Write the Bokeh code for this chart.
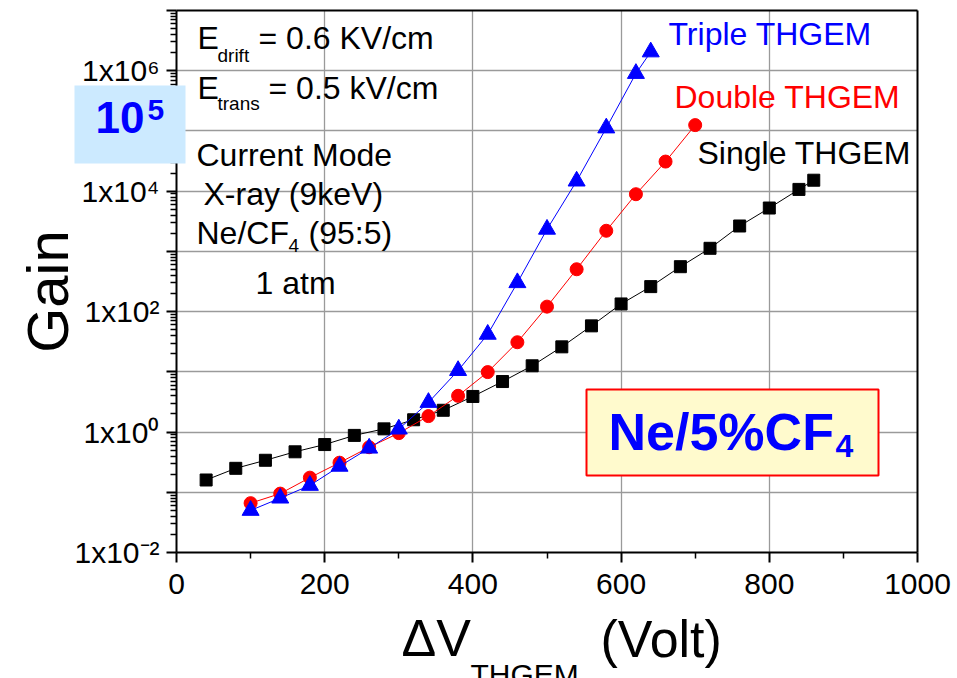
import math

from bokeh.embed import file_html
from bokeh.models import (BoxAnnotation, FixedTicker, Grid, Label, LinearAxis,
                          LogAxis, Range1d)
from bokeh.plotting import figure
from bokeh.resources import INLINE

# Gain versus THGEM voltage in Ne/CF4 (95:5), current mode, 9 keV X-rays
single_v = [40, 80, 120, 160, 200, 240, 280, 320, 360, 400, 440, 480, 520,
            560, 600, 640, 680, 720, 760, 800, 840, 860]
single_gain = [0.16, 0.25, 0.34, 0.47, 0.62, 0.88, 1.13, 1.6, 2.3, 3.9, 6.9,
               12.6, 26, 58, 134, 260, 557, 1125, 2640, 5250, 10700, 15200]

double_v = [100, 140, 180, 220, 260, 300, 340, 380, 420, 460, 500, 540, 580,
            620, 660, 700]
double_gain = [0.066, 0.095, 0.175, 0.31, 0.56, 0.96, 1.84, 4.0, 9.9, 31, 121,
               505, 2200, 8900, 31000, 125000]

triple_v = [100, 140, 180, 220, 260, 300, 340, 380, 420, 460, 500, 540, 580,
            620, 640]
triple_gain = [0.050, 0.080, 0.13, 0.27, 0.54, 1.12, 3.1, 10.5, 42, 302, 2330,
               14700, 112000, 900000, 2.05e6]

x_major = [0, 200, 400, 600, 800, 1000]
x_minor = [100, 300, 500, 700, 900]
y_decades = list(range(-2, 8))
y_labels = {-2: "1x10\u207b\u00b2", 0: "1x10\u2070", 2: "1x10\u00b2",
            4: "1x10\u2074", 6: "1x10\u2076"}

FONT = "Liberation Sans"
ASCENT = 0.905          # font ascent, in em
W, H = 957, 678
# where the axes box sits on the page
LEFT, RIGHT, TOP, BOTTOM = 176, 917, 10, 552
X0, X1 = 0, 1000
D0, D1 = -2, 7
Y0, Y1 = 10.0 ** D0, 10.0 ** D1

# The frame fills the whole page so that the margin texts are not clipped;
# the axes are pinned at the box edges with fixed_location.
px_per_v = (RIGHT - LEFT) / (X1 - X0)
px_per_dec = (BOTTOM - TOP) / (D1 - D0)
x_range = Range1d(X0 - LEFT / px_per_v, X1 + (W - RIGHT) / px_per_v)
y_range = Range1d(10 ** (D0 - (H - BOTTOM) / px_per_dec),
                  10 ** (D1 + TOP / px_per_dec))

p = figure(width=W, height=H, x_range=x_range, y_range=y_range,
           y_axis_type="log", output_backend="svg", toolbar_location=None,
           min_border=0, min_border_left=0, min_border_right=0,
           min_border_top=0, min_border_bottom=0)
p.title.visible = False
p.background_fill_color = "white"
p.border_fill_color = "white"
p.outline_line_color = None

# axes
y_major = [10.0 ** d for d in y_decades]
y_minor = [k * 10.0 ** d for d in y_decades[:-1] for k in range(2, 10)]
xa, ya = p.xaxis[0], p.yaxis[0]
xa.fixed_location = Y0
xa.bounds = (X0, X1)
ya.fixed_location = X0
ya.bounds = (Y0, Y1)
xa.ticker = FixedTicker(ticks=x_major, minor_ticks=x_minor)
ya.ticker = FixedTicker(ticks=y_major, minor_ticks=y_minor)
ya.major_label_overrides = {10.0 ** d: y_labels.get(d, "") for d in y_decades}
for ax in (xa, ya):
    ax.axis_line_width = 2
    ax.axis_line_color = "black"
    ax.major_tick_line_width = 2
    ax.major_tick_line_color = "black"
    ax.minor_tick_line_width = 1.5
    ax.minor_tick_line_color = "black"
    ax.major_tick_in = 0
    ax.major_tick_out = 10
    ax.minor_tick_in = 0
    ax.minor_tick_out = 6
    ax.major_label_text_font = FONT
    ax.major_label_text_font_size = "30px"
    ax.major_label_text_color = "black"
xa.major_label_standoff = 11
ya.major_label_standoff = 7

# top and right edges of the box
top_ax = LinearAxis(fixed_location=Y1, bounds=(X0, X1),
                    ticker=FixedTicker(ticks=[]), axis_line_width=2,
                    major_tick_out=0, minor_tick_out=0)
right_ax = LogAxis(fixed_location=X1, bounds=(Y0, Y1),
                   ticker=FixedTicker(ticks=[]), axis_line_width=2,
                   major_tick_out=0, minor_tick_out=0)
p.add_layout(top_ax, "above")
p.add_layout(right_ax, "right")

# grid, kept inside the box
x_grid_ticks = x_major[1:-1]
y_grid_ticks = y_major[1:-1]
GRID_COLOR, GRID_W = "#9a9a9a", 1.3
if "cross_bounds" in Grid.properties():
    p.xgrid.ticker = FixedTicker(ticks=x_grid_ticks)
    p.ygrid.ticker = FixedTicker(ticks=y_grid_ticks)
    p.xgrid.cross_bounds = (Y0, Y1)
    p.ygrid.cross_bounds = (X0, X1)
    for g in (p.xgrid[0], p.ygrid[0]):
        g.grid_line_color = GRID_COLOR
        g.grid_line_width = GRID_W
else:
    p.xgrid.visible = False
    p.ygrid.visible = False
    p.segment(x0=x_grid_ticks, y0=[Y0] * len(x_grid_ticks),
              x1=x_grid_ticks, y1=[Y1] * len(x_grid_ticks),
              line_color=GRID_COLOR, line_width=GRID_W)
    p.segment(x0=[X0] * len(y_grid_ticks), y0=y_grid_ticks,
              x1=[X1] * len(y_grid_ticks), y1=y_grid_ticks,
              line_color=GRID_COLOR, line_width=GRID_W)

# data series
p.line(single_v, single_gain, line_color="black", line_width=1)
p.scatter(single_v, single_gain, marker="square", size=12, fill_color="black",
          line_color="black")
p.line(double_v, double_gain, line_color="red", line_width=1)
p.scatter(double_v, double_gain, marker="circle", size=13, fill_color="red",
          line_color="red")
p.line(triple_v, triple_gain, line_color="blue", line_width=1)
p.scatter(triple_v, triple_gain, marker="triangle", size=17, fill_color="blue",
          line_color="blue")


def text(px, base_py, s, size, color="black", bold=False):
    """Place a text on the page by its left edge and baseline (pixels)."""
    lab = Label(x=px, y=H - (base_py - ASCENT * size),
                x_units="screen", y_units="screen",
                text=s, text_font=FONT,
                text_font_size=f"{size}px", text_color=color,
                text_font_style="bold" if bold else "normal",
                text_align="left", text_baseline="top")
    p.add_layout(lab)
    return lab


def tag_box(left, top, right, bottom, fill, border=None):
    """Filled box on the page, given in pixels from the top-left corner."""
    box = BoxAnnotation(left=left, right=right, top=H - top, bottom=H - bottom,
                        left_units="screen", right_units="screen",
                        top_units="screen", bottom_units="screen",
                        fill_color=fill, fill_alpha=1.0,
                        line_color=border, line_alpha=1.0,
                        line_width=2 if border else 0,
                        level="annotation")
    p.add_layout(box)
    return box


# series names
text(668, 44, "Triple THGEM", 32, "blue")
text(674, 107, "Double THGEM", 32, "red")
text(697, 163, "Single THGEM", 32, "black")

# run conditions
text(197, 48, "E", 32)
text(217, 62, "drift", 19)
text(258, 48, "= 0.6 KV/cm", 32)
text(197, 98, "E", 32)
text(217, 110, "trans", 19)
text(268, 98, "= 0.5 kV/cm", 32)
text(196, 165, "Current Mode", 32)
text(203, 204, "X-ray (9keV)", 32)
text(196, 243, "Ne/CF", 32)
text(288, 256, "4", 19)
text(308, 243, "(95:5)", 32)
text(255, 293, "1 atm", 32)

# gas mixture tag
tag_box(586, 389, 878, 475, "#fffacd", border="red")
text(608, 450, "Ne/5%CF", 52, "blue", bold=True)
text(835, 463, "4", 32, "blue", bold=True)

# gain tag
tag_box(74, 85, 185, 163, "#cceaff")
text(95, 141, "10", 44, "blue", bold=True)
text(147, 127, "5", 30, "blue", bold=True)

# axis titles; "Gain" reads upwards, its baseline at x = 67
GAIN_SIZE = 58
p.add_layout(Label(x=67 - ASCENT * GAIN_SIZE, y=H - 291,
                   x_units="screen", y_units="screen", text="Gain",
                   text_font=FONT, text_font_size=f"{GAIN_SIZE}px",
                   text_color="black", text_align="center",
                   text_baseline="top", angle=math.pi / 2))
text(401, 656, "\u0394V", 52)
text(470, 685, "THGEM", 30)
text(600, 657, "(Volt)", 52)

open("out.html", "w").write(file_html(p, INLINE))
